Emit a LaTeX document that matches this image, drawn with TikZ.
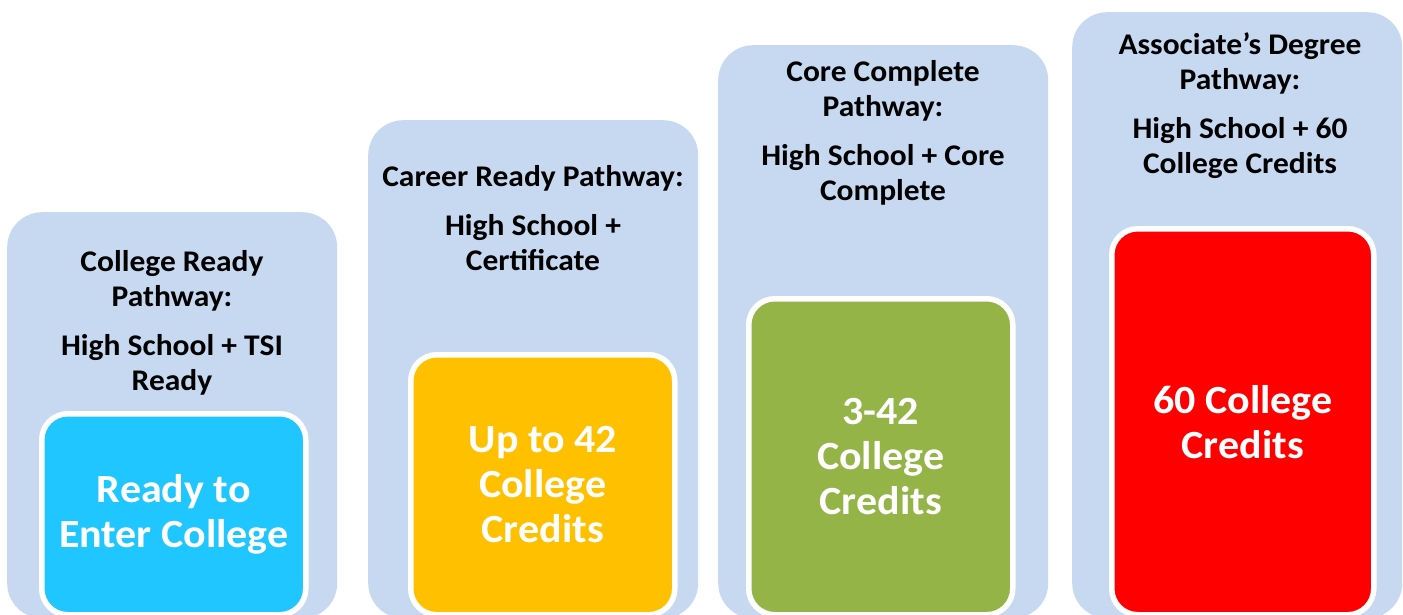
\documentclass[tikz,border=0pt]{standalone}
\usepackage{fontspec}
\setmainfont{Carlito}[FakeStretch=1.05]
\definecolor{colblue}{HTML}{C6D9F0}
\definecolor{readycyan}{HTML}{1FC6FF}
\definecolor{careergold}{HTML}{FFC000}
\definecolor{coregreen}{HTML}{94B447}
\definecolor{degreered}{HTML}{FF0000}
\begin{document}
\begin{tikzpicture}[x=1pt,y=-1pt,
  pathcol/.style={fill=colblue, rounded corners=35pt, minimum width=330pt, anchor=north west, inner sep=0pt},
  creditbox/.style={draw=white, line width=5.5pt, rounded corners=26pt, anchor=north west, text=white, align=center, inner sep=0pt, font=\bfseries\fontsize{40}{45}\selectfont},
  pathtext/.style={anchor=north, align=center, inner sep=0pt, font=\bfseries\fontsize{30}{35}\selectfont}]
\useasboundingbox (0,0) rectangle (1403,615);
\clip (0,0) rectangle (1403,615);
\node[pathcol, minimum height=406pt] (col1) at (7,212){};
\node[pathcol, minimum height=498pt] (col2) at (368,120){};
\node[pathcol, minimum height=573pt] (col3) at (718,45){};
\node[pathcol, minimum height=606pt] (col4) at (1072,12){};
\node[pathtext] (txt1) at (172,250){College Ready\\Pathway:\\[14pt]High School + TSI\\Ready};
\node[pathtext] (txt2) at (533,165){Career Ready Pathway:\\[14pt]High School +\\Certificate};
\node[pathtext] (txt3) at (883,60){Core Complete\\Pathway:\\[14pt]High School + Core\\Complete};
\node[pathtext] (txt4) at (1240,32){Associate’s Degree\\Pathway:\\[14pt]High School + 60\\College Credits};
\node[creditbox, fill=readycyan, minimum width=264pt, minimum height=201pt] (box1) at (39,411){Ready to\\Enter College};
\node[creditbox, fill=careergold, minimum width=264pt, minimum height=260pt] (box2) at (408,352){Up to 42\\College\\Credits};
\node[creditbox, fill=coregreen, minimum width=264pt, minimum height=316pt] (box3) at (746,296){3-42\\College\\Credits};
\node[creditbox, fill=degreered, minimum width=262pt, minimum height=386pt] (box4) at (1109,226){60 College\\Credits};

\end{tikzpicture}
\end{document}
